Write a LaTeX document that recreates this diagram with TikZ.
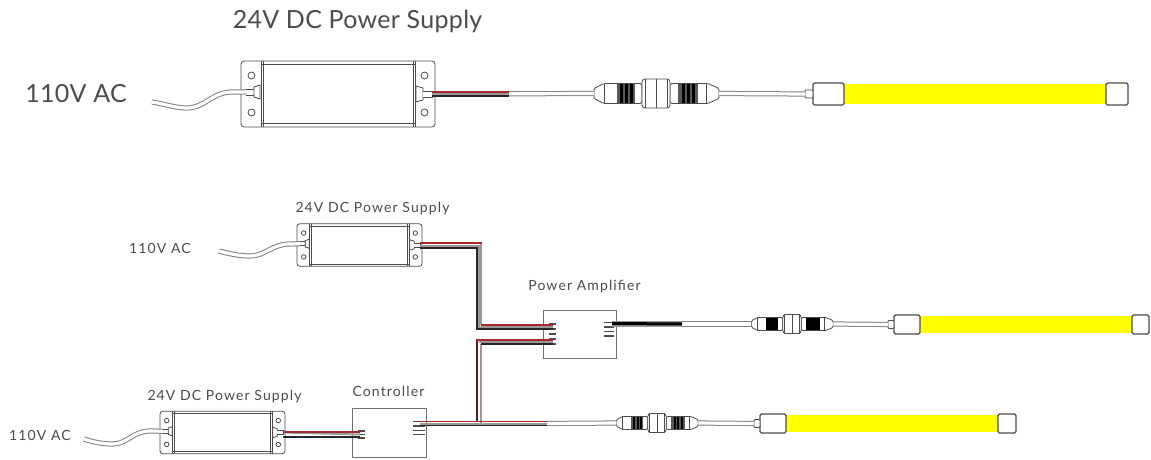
\documentclass[tikz,border=0pt]{standalone}
\usepackage{fontspec}
\setmainfont{Lato}
\definecolor{ink}{gray}{0.3}
\definecolor{wred}{RGB}{165,40,45}
\definecolor{wgrey}{gray}{0.6}
\definecolor{ledy}{RGB}{255,255,0}
\tikzset{
  outline/.style={draw=ink,line width=.8pt},
  psubox/.style={outline,fill=white,rounded corners=3pt,inner sep=0,outer sep=0},
  ctrlbox/.style={draw=ink!80,line width=.9pt,fill=white,inner sep=0,outer sep=0},
  capbox/.style={draw=ink,line width=1.2pt,fill=white,rounded corners=1.5pt,inner sep=0,outer sep=0},
  ledbar/.style={fill=ledy,draw=none,inner sep=0,outer sep=0},
  cable/.style={draw=ink!70,double=white,line width=1pt,double distance=3.2pt},
  wr/.style={draw=wred,line width=1.5pt},
  wk/.style={draw=black!85,line width=1.6pt},
  wg/.style={draw=wgrey,line width=2pt},
  biglabel/.style={text=ink,font=\fontsize{25}{28}\selectfont\addfontfeature{LetterSpace=1.2},inner sep=0,anchor=base},
  smalllabel/.style={text=ink,font=\fontsize{14}{16}\selectfont\addfontfeature{LetterSpace=8},inner sep=0,anchor=base},
}
% power supply: name, cx, cy, scale
\newcommand\psupply[4]{
  \node[psubox,minimum width={#4*194pt},minimum height={#4*66pt}] (#1) at (#2,#3) {};
  \begin{scope}[shift={(#2,#3)},scale=#4]
    \draw[outline] (-77,-33) -- (-77,33) (77,-33) -- (77,33);
    \draw[outline] (-75,-33) -- (-75,33) (75,-33) -- (75,33);
    \draw[outline] (-77,-29.5) -- (77,-29.5) (-77,29.5) -- (77,29.5);
    \foreach \hx in {-86.5,86.5} \foreach \hy in {-18.5,18.5}
      \draw[outline] (\hx,\hy) circle (3.5);
    \draw[outline,fill=white] (-92,-5) -- (-84,-5) -- (-84,1) -- (-92,1);
    \draw[outline,fill=white] (-84,-7) -- (-78,-9) -- (-78,5) -- (-84,3) -- cycle;
    \draw[outline,fill=white] (78,-8) -- (85,-6) -- (85,6) -- (78,8) -- cycle;
    \draw[outline,fill=white] (85,-3) -- (94,-3) -- (94,3) -- (85,3);
    \coordinate (#1in) at (-92,-2);
    \coordinate (#1out) at (94,0);
  \end{scope}
}
% barrel connector: name, cx, cy, scale, stripe colour
\newcommand\barrel[5]{
  \begin{scope}[shift={(#2,#3)},scale=#4]
    \draw[outline,fill=white,rounded corners=1.5pt] (-62,-5) -- (-52,-10) -- (-14,-10) -- (-14,10) -- (-52,10) -- (-62,5) -- cycle;
    \draw[outline,fill=white,rounded corners=1.5pt] (63,-5) -- (52,-10) -- (14,-10) -- (14,10) -- (52,10) -- (63,5) -- cycle;
    \draw[outline] (-52,-10) -- (-52,10) (50,-10) -- (50,10);
    \fill[#5] (-39,-9.5) rectangle (-21,9.5);
    \fill[#5] (22,-9.5) rectangle (42,9.5);
    \foreach \sx in {-36,-31,-26,26,31,36}
      \fill[black] (\sx,-9.5) rectangle ++(3,19);
    \draw[outline,fill=white,rounded corners=3pt] (-14,-14.5) rectangle (14,14.5);
    \draw[outline] (-11,-14.5) -- (-11,14.5) (0,-14.5) -- (0,14.5) (11,-14.5) -- (11,14.5);
    \coordinate (#1L) at (-62,0);
    \coordinate (#1R) at (63,0);
  \end{scope}
}
% LED strip: name, plug left, cap left, cap right, end left, end right, y, half height
\newcommand\ledstrip[8]{
  \node[ledbar,minimum width={(#6-#4)*1pt},minimum height={(2*#8-2)*1pt}] (#1bar) at ({(#4+#6)/2},#7) {};
  \node[capbox,minimum width={(#4-#3)*1pt},minimum height={2*#8*1pt}] (#1cap) at ({(#3+#4)/2},#7) {};
  \node[capbox,minimum width={(#6-#5)*1pt},minimum height={2*#8*1pt}] (#1end) at ({(#5+#6)/2},#7) {};
  \draw[outline,fill=white,rounded corners=1pt] (#2,#7-4) rectangle (#3,#7+4);
  \coordinate (#1plug) at (#2,#7);
}
% pin block: x left, x right, y first, count, spacing
\newcommand\pinrow[5]{
  \foreach \pn in {1,...,#4}
    \draw[ink,line width=1.5pt] (#1,{#3+(\pn-1)*#5}) -- (#2,{#3+(\pn-1)*#5});
}
\begin{document}
\begin{tikzpicture}[x=1pt,y=-1pt]
\useasboundingbox (0,0) rectangle (1151,460);
\fill[white] (0,0) rectangle (1151,460);

% labels
\node[biglabel] (t1) at (357.5,29) {24V DC Power Supply};
\node[biglabel] (a1) at (76,102) {110V AC};
\node[smalllabel] (t2) at (372.5,212) {24V DC Power Supply};
\node[smalllabel] (a2) at (160,253) {110V AC};
\node[smalllabel] (t3) at (224.5,400) {24V DC Power Supply};
\node[smalllabel] (a3) at (40,440) {110V AC};
\node[smalllabel] (amplab) at (584.5,290) {Power Amplifier};
\node[smalllabel] (ctrllab) at (388.5,396) {Controller};

% ---- top system
\psupply{p1}{338}{94}{1}
\draw[cable] (152,102) .. controls (165,104) and (175,108) .. (187,108) .. controls (205,108) and (212,92) .. (232,92) -- (p1in);
\coordinate (w1end) at (509,94);
\barrel{c1}{656}{93.5}{1}{black!65}
\ledstrip{s1}{805}{813}{844}{1106}{1128}{94}{11}
\draw[cable] (p1out) -- (c1L);
\draw[wg] (p1out) -- (w1end);
\draw[wr] (432,92) -- (509,92);
\draw[wk] (432,96) -- (509,96);
\draw[cable] (c1R) -- (s1plug);

% ---- lower supplies
\psupply{p2}{359.5}{245}{.645}
\draw[cable] (219,251) .. controls (230,254) and (240,256) .. (250,256) .. controls (265,256) and (272,244) .. (290,244) -- (p2in);
\psupply{p3}{222.5}{432.5}{.645}
\draw[cable] (84,439) .. controls (92,442) and (103,444) .. (113,444) .. controls (127,444) and (133,431) .. (150,431) -- (p3in);

% ---- controller and amplifier
\node[ctrlbox,minimum width=73pt,minimum height=48pt] (amp) at (579.5,334) {};
\node[ctrlbox,minimum width=74pt,minimum height=49pt] (ctrl) at (389,432.5) {};
\pinrow{549}{555.5}{324}{5}{5}
\pinrow{604}{614}{322.5}{4}{4.5}
\pinrow{358}{365}{431}{3}{3.4}
\pinrow{413}{425}{421.5}{4}{4.4}

% ---- wires: supply 2 to amplifier
\coordinate (a) at (p2out);
\draw[wk] (a |- 0,248) -- (477,248) -- (477,329) -- (553,329);
\draw[wg] (a |- 0,245.5) -- (479,245.5) -- (479,327) -- (553,327);
\draw[wg] (481,244) -- (481,325);
\draw[wr] (a |- 0,243) -- (482,243);
\draw[wr] (481,325) -- (553,325);

% ---- wires: supply 3 to controller
\draw[wg] (p3out) -- (360,434.5);
\draw[wr] (p3out |- 0,432) -- (360,432);
\draw[wk] (p3out |- 0,437) -- (360,437);

% ---- wires: controller to amplifier and strip 3
\draw[wg] (477,340) -- (477,422);
\draw[wg] (481,344) -- (481,424);
\draw[draw=wred!60!black,line width=1.4pt] (477,339) -- (477,422);
\draw[wr] (476.3,340) -- (553,340);
\draw[wg] (479,342) -- (553,342);
\draw[wk] (481,344) -- (553,344);
\coordinate (w3end) at (547,423.5);
\barrel{c3}{657}{423}{.656}{black!65}
\ledstrip{s3}{754}{760}{786}{998}{1016}{423.5}{9.5}
\draw[cable] (w3end) -- (c3L);
\draw[wg] (420,423.5) -- (w3end);
\draw[wr] (420,421.5) -- (w3end |- 0,421.5);
\draw[wk] (420,425.5) -- (w3end |- 0,425.5);
\draw[cable] (c3R) -- (s3plug);

% ---- amplifier to strip 2
\coordinate (w2end) at (682,324);
\barrel{c2}{792}{324}{.656}{black}
\ledstrip{s2}{888}{894}{920}{1132}{1149}{324.5}{9.5}
\draw[cable] (w2end) -- (c2L);
\draw[draw=wgrey,line width=5.5pt] (612,324) -- (w2end);
\draw[draw=black,line width=3pt] (612,323.5) -- (w2end);
\draw[cable] (c2R) -- (s2plug);
\end{tikzpicture}
\end{document}
